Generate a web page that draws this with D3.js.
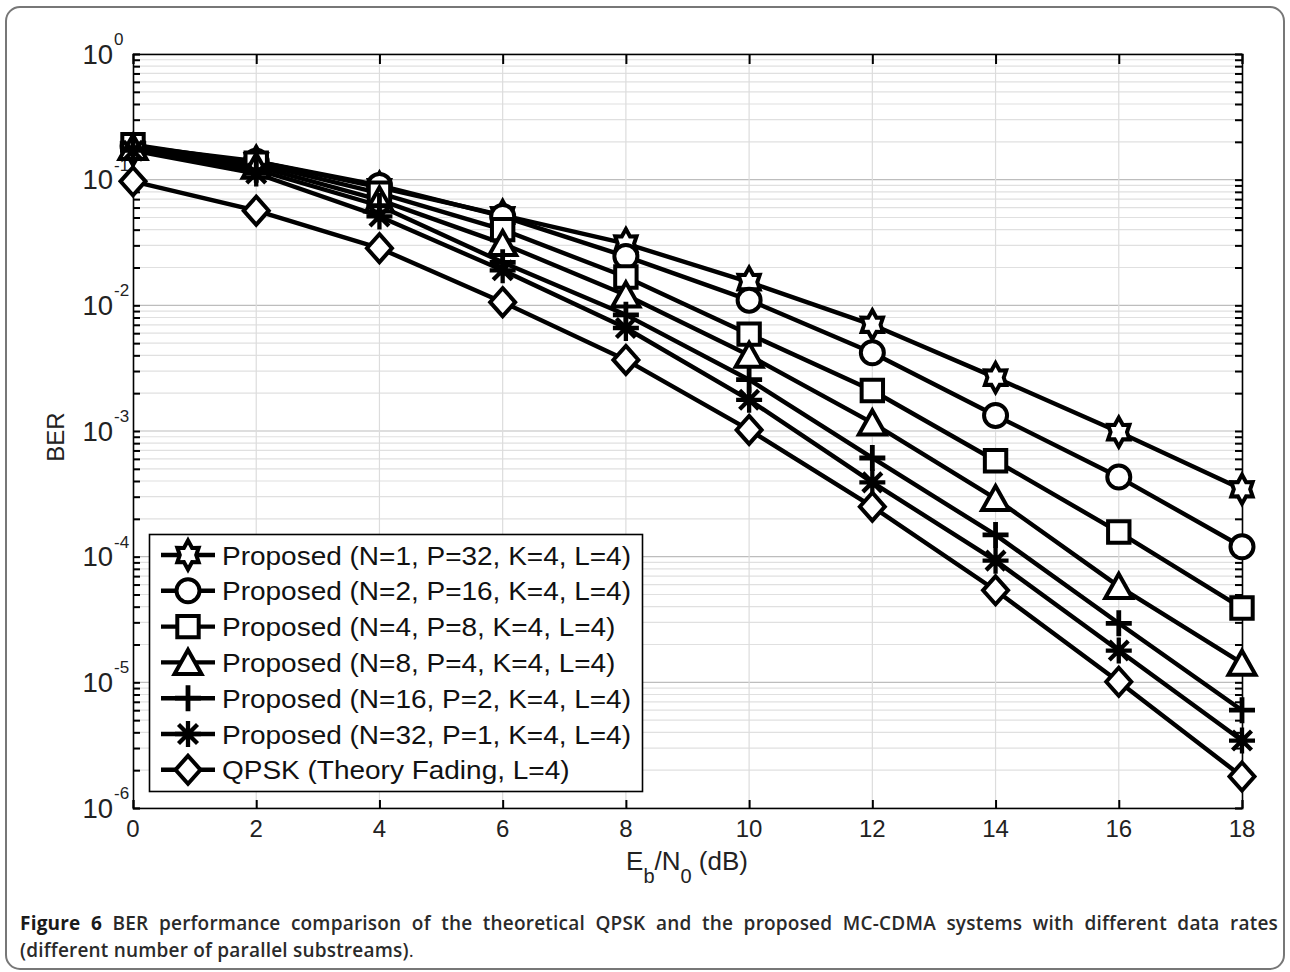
<!DOCTYPE html>
<html><head><meta charset="utf-8">
<script src="https://cdn.jsdelivr.net/npm/d3@7"></script>
<style>
html,body{margin:0;padding:0;background:#fff;}
svg{display:block;}
</style></head>
<body>
<svg id="chart" width="1290" height="972"></svg>
<script>
// ---- data ----
const snr = [0, 2, 4, 6, 8, 10, 12, 14, 16, 18];
const berN1  = [0.17, 0.14, 0.087, 0.052, 0.031, 0.0153, 0.0070, 0.00266, 9.8e-4, 3.44e-4];
const berN2  = [0.185, 0.14, 0.09, 0.051, 0.0245, 0.011, 0.0042, 0.00133, 4.3e-4, 1.2e-4];
const berN4  = [0.19, 0.135, 0.078, 0.040, 0.0168, 0.0059, 0.0021, 5.8e-4, 1.57e-4, 3.9e-5];
const berN8  = [0.18, 0.128, 0.069, 0.031, 0.0121, 0.0040, 0.00116, 2.9e-4, 5.8e-5, 1.42e-5];
const berN16 = [0.175, 0.12, 0.062, 0.022, 0.0084, 0.00256, 6.1e-4, 1.49e-4, 2.95e-5, 6.0e-6];
const berN32 = [0.17, 0.112, 0.051, 0.019, 0.0066, 0.00177, 3.9e-4, 9.3e-5, 1.79e-5, 3.44e-6];
const berQPSK = [0.097, 0.0567, 0.0285, 0.0106, 0.00368, 0.00102, 2.5e-4, 5.4e-5, 1.01e-5, 1.78e-6];
const seriesNames = [
  "Proposed (N=1, P=32, K=4, L=4)",
  "Proposed (N=2, P=16, K=4, L=4)",
  "Proposed (N=4, P=8, K=4, L=4)",
  "Proposed (N=8, P=4, K=4, L=4)",
  "Proposed (N=16, P=2, K=4, L=4)",
  "Proposed (N=32, P=1, K=4, L=4)",
  "QPSK (Theory Fading, L=4)"
];
const seriesMarkers = ["hexagram", "circle", "square", "triangle", "plus", "asterisk", "diamond"];
const seriesValues = [berN1, berN2, berN4, berN8, berN16, berN32, berQPSK];
const xTicks = [0, 2, 4, 6, 8, 10, 12, 14, 16, 18];
const yTickExps = [0, -1, -2, -3, -4, -5, -6];
const xLabel = {main: "E", sub1: "b", mid: "/N", sub2: "0", tail: " (dB)"};
const yLabel = "BER";
const captionBold = "Figure 6";
const captionLine1 = " BER performance comparison of the theoretical QPSK and the proposed MC-CDMA systems with different data rates";
const captionLine2 = "(different number of parallel substreams)";

// ---- layout ----
const L = 133, R = 1242, T = 54, B = 808;
const svg = d3.select("#chart");
const x = d3.scaleLinear().domain([0, 18]).range([L, R]);
const y = d3.scaleLog().domain([1e-6, 1]).range([B, T]);

// outer rounded border
svg.append("rect").attr("x", 6).attr("y", 7).attr("width", 1278).attr("height", 962)
  .attr("rx", 14).attr("fill", "#fff").attr("stroke", "#777").attr("stroke-width", 2);

// grid
const minorVals = [];
for (let e = -6; e < 0; e++) for (let m = 2; m <= 9; m++) minorVals.push(m * Math.pow(10, e));
const majorVals = yTickExps.map(e => Math.pow(10, e));
const g = svg.append("g");
g.selectAll(".gminor").data(minorVals).join("line")
  .attr("x1", L).attr("x2", R).attr("y1", d => y(d)).attr("y2", d => y(d))
  .attr("stroke", "#e0e0e0").attr("stroke-width", 1.2);
g.selectAll(".gmajor").data(majorVals).join("line")
  .attr("x1", L).attr("x2", R).attr("y1", d => y(d)).attr("y2", d => y(d))
  .attr("stroke", "#bdbdbd").attr("stroke-width", 1.2);
g.selectAll(".gx").data(xTicks.slice(1, -1)).join("line")
  .attr("x1", d => x(d)).attr("x2", d => x(d)).attr("y1", T).attr("y2", B)
  .attr("stroke", "#dcdcdc").attr("stroke-width", 1.2);

// axes frame with ticks
const axB = d3.axisBottom(x).tickValues(xTicks).tickSize(-8).tickFormat("");
const axT = d3.axisTop(x).tickValues(xTicks).tickSize(-10).tickFormat("");
const allY = majorVals.concat(minorVals);
const axLft = d3.axisLeft(y).tickValues(allY).tickSize(-7).tickFormat("");
const axRgt = d3.axisRight(y).tickValues(allY).tickSize(-7).tickFormat("");
function styleAxis(sel) {
  sel.selectAll("path").attr("stroke", "#000").attr("stroke-width", 1.6);
  sel.selectAll("line").attr("stroke", "#000").attr("stroke-width", 2);
}
svg.append("g").attr("transform", `translate(0,${B})`).call(axB).call(styleAxis);
svg.append("g").attr("transform", `translate(0,${T})`).call(axT).call(styleAxis);
svg.append("g").attr("transform", `translate(${L},0)`).call(axLft).call(styleAxis);
svg.append("g").attr("transform", `translate(${R},0)`).call(axRgt).call(styleAxis);

// tick labels
const font = "'Liberation Sans', Arial, Helvetica, sans-serif";
svg.append("g").selectAll("text").data(xTicks).join("text")
  .attr("x", d => x(d)).attr("y", B + 29).attr("text-anchor", "middle")
  .attr("font-family", font).attr("font-size", 24).attr("fill", "#222")
  .text(d => d);
const yl = svg.append("g").selectAll("text").data(yTickExps).join("text")
  .attr("x", 82.5).attr("y", d => y(Math.pow(10, d)) + 9.5)
  .attr("font-family", font).attr("fill", "#222");
yl.append("tspan").attr("font-size", 27.5).text("10");
yl.append("tspan").attr("font-size", 17).attr("dx", 1).attr("dy", -18.5)
  .text(d => d === 0 ? "0" : "-" + (-d));

// axis titles
const xt = svg.append("text").attr("x", 687).attr("y", 870).attr("text-anchor", "middle")
  .attr("font-family", font).attr("font-size", 26).attr("fill", "#222");
xt.append("tspan").text(xLabel.main);
xt.append("tspan").attr("font-size", 20).attr("dy", 13).text(xLabel.sub1);
xt.append("tspan").attr("dy", -13).text(xLabel.mid);
xt.append("tspan").attr("font-size", 20).attr("dy", 13).text(xLabel.sub2);
xt.append("tspan").attr("dy", -13).text(xLabel.tail);
svg.append("text").attr("transform", "translate(64,437) rotate(-90)").attr("text-anchor", "middle")
  .attr("font-family", font).attr("font-size", 24).attr("fill", "#222").text(yLabel);

// marker shapes
function markerPath(type) {
  const p = d3.path();
  switch (type) {
    case "hexagram": {
      const Ro = 14.5, Ri = 8.2;
      for (let i = 0; i < 12; i++) {
        const a = -Math.PI / 2 + i * Math.PI / 6;
        const r = i % 2 === 0 ? Ro : Ri;
        const sx = (i % 2 === 0 ? 0.85 : 1);
        if (i === 0) p.moveTo(r * Math.cos(a) * sx, r * Math.sin(a)); else p.lineTo(r * Math.cos(a) * sx, r * Math.sin(a));
      }
      p.closePath(); break;
    }
    case "circle": p.arc(0, 0, 11.5, 0, 2 * Math.PI); p.closePath(); break;
    case "square": p.rect(-10.7, -10.7, 21.4, 21.4); break;
    case "triangle": p.moveTo(0, -12.5); p.lineTo(13.5, 11.5); p.lineTo(-13.5, 11.5); p.closePath(); break;
    case "diamond": p.moveTo(0, -14); p.lineTo(12.5, 0); p.lineTo(0, 14); p.lineTo(-12.5, 0); p.closePath(); break;
    case "plus": p.moveTo(-13, 0); p.lineTo(13, 0); p.moveTo(0, -13); p.lineTo(0, 13); break;
    case "asterisk": {
      p.moveTo(-13, 0); p.lineTo(13, 0); p.moveTo(0, -13); p.lineTo(0, 13);
      p.moveTo(-9.5, -9.5); p.lineTo(9.5, 9.5); p.moveTo(-9.5, 9.5); p.lineTo(9.5, -9.5); break;
    }
  }
  return p.toString();
}
function drawMarker(sel, type) {
  const filled = !(type === "plus" || type === "asterisk");
  sel.append("path").attr("d", markerPath(type))
    .attr("fill", filled ? "#fff" : "none")
    .attr("stroke", "#000")
    .attr("stroke-width", type === "plus" ? 4.8 : (type === "asterisk" ? 4.3 : 4))
    .attr("stroke-linejoin", "miter");
}

// series lines
const line = d3.line().x((d, i) => x(snr[i])).y(d => y(d));
const sg = svg.append("g");
seriesValues.forEach(vals => {
  sg.append("path").attr("d", line(vals)).attr("fill", "none")
    .attr("stroke", "#000").attr("stroke-width", 4.4).attr("stroke-linejoin", "round");
});
seriesValues.forEach((vals, k) => {
  sg.append("g").selectAll("g").data(vals).join("g")
    .attr("transform", (d, i) => `translate(${x(snr[i])},${y(d)})`)
    .each(function () { drawMarker(d3.select(this), seriesMarkers[k]); });
});

// legend
const lg = svg.append("g");
lg.append("rect").attr("x", 149.5).attr("y", 534.5).attr("width", 493).attr("height", 257)
  .attr("fill", "#fff").attr("stroke", "#000").attr("stroke-width", 1.6);
const legTexts = [];
seriesNames.forEach((name, i) => {
  const cy = 555 + i * 35.8;
  lg.append("line").attr("x1", 161).attr("x2", 215).attr("y1", cy).attr("y2", cy)
    .attr("stroke", "#000").attr("stroke-width", 4.4);
  drawMarker(lg.append("g").attr("transform", `translate(188,${cy})`), seriesMarkers[i]);
  legTexts.push(lg.append("text").attr("x", 222).attr("y", cy + 9.5)
    .attr("font-family", font).attr("font-size", 26).attr("fill", "#111")
    .text(name));
});
// stretch legend text horizontally to match the wide source rendering
const w0 = legTexts[0].node().getComputedTextLength();
const sxLeg = 409 / w0;
legTexts.forEach(t => {
  const w = t.node().getComputedTextLength();
  t.attr("textLength", w * sxLeg).attr("lengthAdjust", "spacingAndGlyphs");
});

// caption (justified using word spacing)
const capFont = "'Open Sans', 'Noto Sans', sans-serif";
const cap = svg.append("text").attr("x", 20).attr("y", 930)
  .attr("font-family", capFont).attr("font-size", 19).attr("letter-spacing", 0.2);
cap.append("tspan").attr("font-weight", 700).attr("fill", "#1a1a1a").text(captionBold);
cap.append("tspan").attr("font-weight", 600).attr("fill", "#2a2a2a").text(captionLine1);
const natural = cap.node().getComputedTextLength();
const nSpaces = (captionBold + captionLine1).split(" ").length - 1;
cap.attr("word-spacing", Math.max(0, (1258 - natural) / nSpaces));
const cap2 = svg.append("text").attr("x", 20).attr("y", 957)
  .attr("font-family", capFont).attr("font-size", 19).attr("letter-spacing", 0.2);
cap2.append("tspan").attr("font-weight", 600).attr("fill", "#2a2a2a").text(captionLine2);
cap2.append("tspan").attr("font-weight", 400).attr("fill", "#2a2a2a").text(".");
</script>
</body></html>
